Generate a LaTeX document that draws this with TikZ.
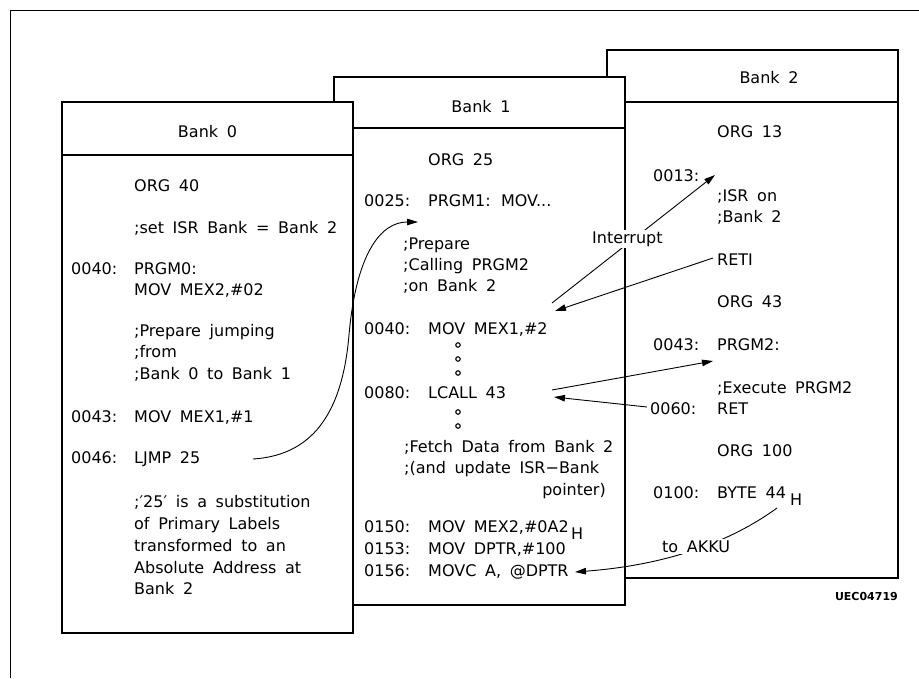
\documentclass[tikz,border=0pt]{standalone}
\usepackage{fontspec}
\setmainfont{DejaVu Sans}[WordSpace=1.7]
\usetikzlibrary{arrows.meta}
\tikzset{
  bankbox/.style={draw, line width=2.6pt, fill=white},
  bankrule/.style={line width=2.6pt},
  code/.style={anchor=base west, inner sep=0pt, font=\fontsize{16}{18}\selectfont},
  coderight/.style={code, anchor=base east},
  banktitle/.style={anchor=base, inner sep=0pt, font=\fontsize{16}{18}\selectfont},
  conn/.style={line width=0.9pt, -{Triangle[length=11pt,width=6.5pt]}},
  lbl/.style={anchor=base west, fill=white, inner sep=1.5pt, font=\fontsize{16}{18}\selectfont},
  dotmark/.style={draw, line width=1.1pt, fill=white, circle, inner sep=0pt, minimum size=4.5pt},
  frameline/.style={line width=0.8pt},
  tag/.style={anchor=base east, inner sep=0pt, font=\fontsize{11}{13}\selectfont\bfseries}
}
\begin{document}
\begin{tikzpicture}[x=1pt,y=-1pt]
\useasboundingbox (0,0) rectangle (919,678);
\draw[frameline] (10,678) -- (10,10) -- (919,10);

% Bank 2 (back)
\draw[bankbox] (607,50) rectangle (898,578);
\draw[bankrule] (607,102) -- (898,102);
% Bank 1 (middle)
\draw[bankbox] (334,77) rectangle (625,605);
\draw[bankrule] (334,128) -- (625,128);
% Bank 0 (front)
\draw[bankbox] (62,102) rectangle (353,633);
\draw[bankrule] (62,155) -- (353,155);

% titles
\node[banktitle] (t0) at (207.5,137) {Bank 0};
\node[banktitle] (t1) at (481,112) {Bank 1};
\node[banktitle] (t2) at (769,83) {Bank 2};

% Bank 0 text
\node[code] (b0org) at (134,191) {ORG 40};
\node[code] (b0set) at (134,233) {;set ISR Bank = Bank 2};
\node[code] (b0a40) at (71,274) {0040:};
\node[code] (b0prg) at (134,274) {PRGM0:};
\node[code] (b0mov) at (134,295) {MOV MEX2,\#02};
\node[code] (b0c1) at (134,336) {;Prepare jumping};
\node[code] (b0c2) at (134,357) {;from};
\node[code] (b0c3) at (134,379) {;Bank 0 to Bank 1};
\node[code] (b0a43) at (71,422) {0043:};
\node[code] (b0m1) at (134,422) {MOV MEX1,\#1};
\node[code] (b0a46) at (71,463) {0046:};
\node[code] (b0lj) at (134,463) {LJMP 25};
\node[code] (b0n1) at (134,507) {;′25′ is a substitution};
\node[code] (b0n2) at (134,529) {of Primary Labels};
\node[code] (b0n3) at (134,551) {transformed to an};
\node[code] (b0n4) at (134,573) {Absolute Address at};
\node[code] (b0n5) at (134,594) {Bank 2};

% Bank 1 text
\node[code] (b1org) at (428,165) {ORG 25};
\node[code] (b1a25) at (364,206) {0025:};
\node[code] (b1prg) at (428,206) {PRGM1: MOV...};
\node[code] (b1c1) at (403,249) {;Prepare};
\node[code] (b1c2) at (403,270) {;Calling PRGM2};
\node[code] (b1c3) at (403,291) {;on Bank 2};
\node[code] (b1a40) at (364,334) {0040:};
\node[code] (b1m40) at (428,334) {MOV MEX1,\#2};
\node[dotmark] (d1) at (458,345) {};
\node[dotmark] (d2) at (458,359) {};
\node[dotmark] (d3) at (458,373) {};
\node[code] (b1a80) at (364,398) {0080:};
\node[code] (b1lc) at (428,398) {LCALL 43};
\node[dotmark] (d4) at (458,412) {};
\node[dotmark] (d5) at (458,426) {};
\node[code] (b1f1) at (404,452) {;Fetch Data from Bank 2};
\node[code] (b1f2) at (404,473) {;(and update ISR\symbol{"2212}Bank};
\node[coderight] (b1f3) at (606,495) {pointer)};
\node[code] (b1a150) at (364,532) {0150:};
\node[code] (b1m150) at (428,532) {MOV MEX2,\#0A2};
\node[code] (b1h) at (571,539) {H};
\node[code] (b1a153) at (364,554) {0153:};
\node[code] (b1m153) at (428,554) {MOV DPTR,\#100};
\node[code] (b1a156) at (364,576) {0156:};
\node[code] (b1m156) at (428,576) {MOVC A, @DPTR};

% Bank 2 text
\node[code] (b2org13) at (717,137) {ORG 13};
\node[code] (b2a13) at (653,181) {0013:};
\node[code] (b2isr1) at (717,201) {;ISR on};
\node[code] (b2isr2) at (717,222) {;Bank 2};
\node[code] (b2reti) at (717,265) {RETI};
\node[code] (b2org43) at (717,307) {ORG 43};
\node[code] (b2a43) at (653,350) {0043:};
\node[code] (b2prg) at (717,350) {PRGM2:};
\node[code] (b2ex) at (717,393) {;Execute PRGM2};
\node[code] (b2a60) at (650,414) {0060:};
\node[code] (b2ret) at (717,414) {RET};
\node[code] (b2org100) at (717,456) {ORG 100};
\node[code] (b2a100) at (653,498) {0100:};
\node[code] (b2byte) at (717,498) {BYTE 44};
\node[code] (b2h) at (790,505) {H};
\node[tag] (uec) at (898,600) {UEC04719};

% connector end points
\coordinate (ljs) at (253,459);
\coordinate (lje) at (418,222);
\coordinate (ints) at (552,303);
\coordinate (inte) at (715,175);
\coordinate (rets) at (713,258);
\coordinate (rete) at (555,311);
\coordinate (lcs) at (552,390);
\coordinate (lce) at (713,361);
\coordinate (rts) at (647,407);
\coordinate (rte) at (554,397);
\coordinate (aks) at (777,508);
\coordinate (ake) at (575,572);

% connectors
\draw[conn] (ljs) .. controls (318,455) and (343,405) .. (349,335)
            .. controls (356,255) and (380,222) .. (lje);
\draw[conn] (ints) -- (inte);
\draw[conn] (rets) -- (rete);
\draw[conn] (lcs) -- (lce);
\draw[conn] (rts) -- (rte);
\draw[conn] (aks) .. controls (740,535) and (680,564) .. (ake);

% labels on connectors
\node[lbl] (intl) at (590.5,243) {Interrupt};
\node[lbl] (akl) at (660.5,552) {to AKKU};
\end{tikzpicture}
\end{document}
